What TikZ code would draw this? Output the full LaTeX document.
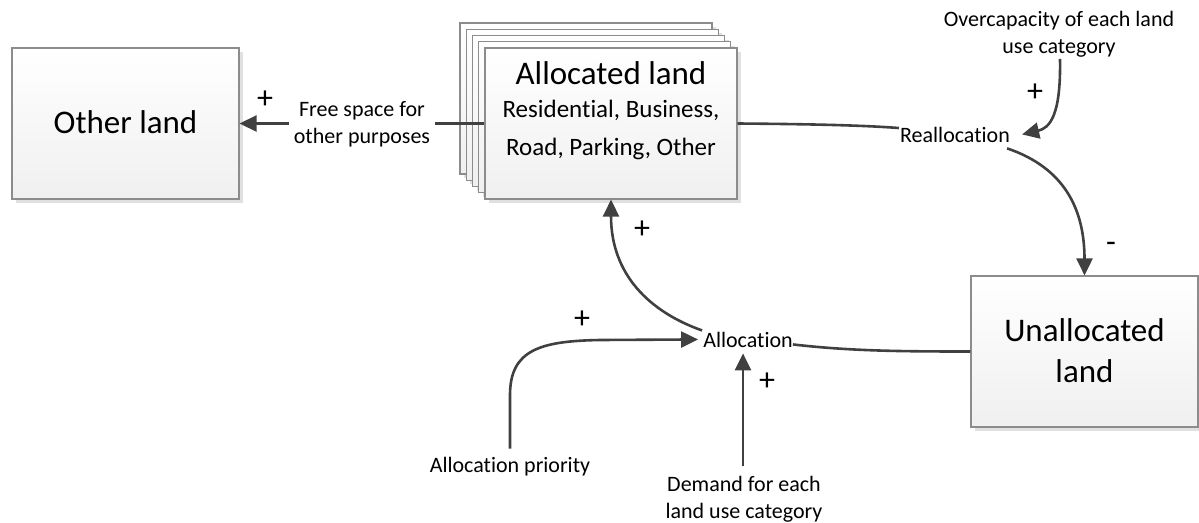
\documentclass[tikz,border=0pt]{standalone}
\usepackage{fontspec}
\setmainfont{Carlito}[Ligatures=NoCommon]
\usetikzlibrary{arrows.meta,shadows,calc}
\definecolor{linec}{HTML}{404040}
\definecolor{boxline}{HTML}{8C8C8C}
\begin{document}
\begin{tikzpicture}[x=1pt,y=-1pt,
  landbox/.style={draw=boxline, line width=1.1pt, top color=white, bottom color=black!6,
    inner sep=0pt, minimum width=227pt, minimum height=151pt,
    drop shadow={shadow xshift=4pt, shadow yshift=-4pt, fill=black!12, opacity=1}},
  stackbox/.style={landbox, minimum width=252pt},
  big/.style={font=\fontsize{33}{41}\selectfont, inner sep=0pt, anchor=base, align=center},
  mid/.style={font=\fontsize{25}{30}\selectfont, inner sep=0pt, anchor=base},
  small/.style={font=\fontsize{22}{26.5}\selectfont, inner sep=0pt, anchor=base, align=center},
  sign/.style={font=\fontsize{32}{36}\selectfont, inner sep=0pt},
  conn/.style={draw=linec, line width=2.6pt},
  arr/.style={conn, -{Triangle[length=17pt,width=16pt]}}]
\useasboundingbox (0,0) rectangle (1199,522);

% boxes
\node[landbox] (other) at (125.5,123.5) {};
\node[big] (othertxt) at (125.5,133) {Other land};

\node[stackbox] (s1) at (586,98.5) {};
\node[stackbox] (s2) at (592.25,104.75) {};
\node[stackbox] (s3) at (598.5,111) {};
\node[stackbox] (s4) at (604.75,117.25) {};
\node[stackbox] (alloc) at (611,123.5) {};
\node[big] (alloctitle) at (611,84) {Allocated land};
\node[mid] (allocl1) at (611,117) {Residential, Business,};
\node[mid] (allocl2) at (611,155) {Road, Parking, Other};

\node[landbox] (unalloc) at (1084.5,351.5) {};
\node[big] (unalloctxt) at (1084.5,382) {Unallocated\\land};

% texts (base anchor = baseline of last line)
\node[small] (free) at (362,143) {Free space for\\other purposes};
\node[small] (realloc) at (955,142) {Reallocation};
\node[small] (overcap) at (1059,53) {Overcapacity of each land\\use category};
\node[small] (allocn) at (748,347) {Allocation};
\node[small] (prio) at (510,472) {Allocation priority};
\node[small] (demand) at (744,518) {Demand for each\\land use category};

% signs
\node[sign] (p1) at (265,100) {+};
\node[sign] (p2) at (1035,93) {+};
\node[sign] (m1) at (1111,247) {-};
\node[sign] (p3) at (642,230) {+};
\node[sign] (p4) at (582,320) {+};
\node[sign] (p5) at (767,382) {+};

% connectors
\coordinate (dtip) at ([xshift=-5pt,yshift=-6pt]allocn.south);
\draw[arr] ([xshift=-5pt]free.west |- other.east) -- (other.east);
\draw[conn] ([xshift=5pt]free.east |- alloc.west) -- (alloc.west);
\draw[conn] (alloc.east) .. controls (800,124) and (860,125) .. ([xshift=-1pt,yshift=-1.5pt]realloc.north west);
\draw[arr] ([xshift=1pt,yshift=-2pt]overcap.south) .. controls (1061,115) and (1050,128) .. ([xshift=12pt]realloc.east);
\draw[arr] ([xshift=-3pt,yshift=-6pt]realloc.south east) .. controls (1065,168) and (1084.5,210) .. (unalloc.north);
\draw[conn] ([yshift=-5pt]allocn.east) .. controls (850,351) and (900,351.5) .. (unalloc.west);
\draw[arr] ([xshift=-1pt,yshift=9pt]allocn.west) .. controls (650,312) and (611,275) .. (alloc.south);
\draw[arr] ([yshift=8pt]prio.north) -- (510,395) .. controls (510,350) and (540,341) .. (600,340) -- ([xshift=-5pt]allocn.west);
\draw[arr] ($(dtip |- demand.north)+(0,-10)$) -- (dtip);
\end{tikzpicture}
\end{document}
